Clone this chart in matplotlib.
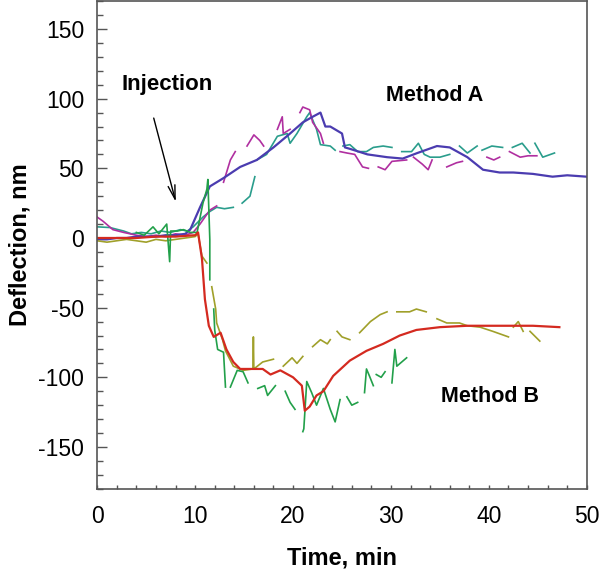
import numpy as np
import matplotlib
matplotlib.use('Agg')
import matplotlib.pyplot as plt
from matplotlib.ticker import MultipleLocator

plt.rcParams['font.family'] = ['Liberation Sans', 'DejaVu Sans']
plt.rcParams['axes.unicode_minus'] = False

# Method A traces (None = gap in the record)
blue_t = [0, 1, 2, 3, 4, 5, 6, 7, 8, 9, 9.5, 10.5, 11.5, 12.9, 14.6, 16.3, 18, 19.7, 21, 22.0,
          22.8, 23.3, 23.8, 25, 25.3, 25.8, 27.6, 29.6, 31.2, 32.7, 34.7, 36, 37.8, 39.4, 41.1,
          42.5, 44.5, 45.5, 46.5, 48, 50]
blue_y = [-1, -1, 0, 0, 1, 1, 1, 2, 2, 3, 6, 22, 37, 43, 51, 56, 65, 75, 83, 87,
          90, 80, 80, 75, 65, 64, 60, 58, 57, 61, 66, 65, 58, 49, 47,
          47, 46, 45, 44, 45, 44]

magenta_t = [0, 0.6, 1.6, 2.7, 4, 5, 6, 7, 8, 9, 9.8, 10.5, 11.5, 12.2, 12.5, 12.9, 13.6, 14.1, 14.7,
             15.3, 16, 16.6, 17, 17.7, 18.4, 18.9, 19, 19.7, 20.2, 20.7, 21, 21.7, 22, 22.8, 23.1,
             24.0, 24.8, 25.5, 26.3, 27.1, 27.7, 28.2, 28.7, 29.4, 30.1, 31.6, 32.0, 32.3, 33.2,
             33.8, 34.2, 35.0, 35.7, 36.7, 37.3, 38.5, 39.8, 40.5, 41.1, 41.6, 42.1, 43.2, 44.0, 44.9]
magenta_y = [15, 12, 6, 4, 2, 1, 2, 1, 3, 2, 4, 10, 20, 23, None, 40, 56, 62, None,
             66, 74, 70, 66, None, 78, 87, 75, 78, None, 90, 94, 92, 83, 75, 68,
             None, 62, 61, 60, 51, 50, None, 51, 49, 55, 56, None, 58, 53,
             49, 56, None, 51, 54, 55, None, 58, 56, 58, None, 62, 58, 59, 59]

teal_t = [0, 1.3, 2.7, 3.5, 4.5, 5.5, 6.5, 7.5, 8.5, 9.2, 9.8, 10.8, 11.5, 12.2, 13.0, 13.9, 14.3,
          14.8, 15.6, 16.1, 16.2, 16.3, 17.3, 18.4, 19.4, 19.7, 20.4, 21.4, 21.7, 22.4, 22.8, 23.8,
          24.3, 24.7, 25.1, 25.8, 26.6, 27.5, 28.2, 29.2, 30.1, 30.6, 31.1, 32.1, 32.8, 33.4, 34,
          35, 36, 36.5, 37, 37.8, 38.8, 39.0, 39.3, 40.3, 41.4, 41.9, 42.4, 43.4, 44.2, 44.5,
          44.7, 45.5, 46.7]
teal_y = [8, 7.5, 5, 3, 4, 3, 5, 4, 6, 5, 8, 15, 19, 22, 21, 22, None,
          25, 30, 44, None, 56, 60, 73, 75, 68, 75, 87, 90, 78, 67, 66,
          63, None, 66, 67, 62, 62, 65, 66, 65, None, 62, 62, 68, 60, 58,
          58, 60, None, 66, 61, 66, None, 63, 66, 65, None, 65, 68, 61, None,
          68, 58, 61]

# Method B traces
red_t = [0, 2, 4, 6, 8, 10, 10.3, 10.7, 11, 11.4, 11.9, 12.6, 13.2, 13.9, 14.6, 15.6, 16.9, 17.7,
         18.7, 20, 20.9, 21.2, 21.7, 22.4, 23.1, 24.1, 25.8, 27.5, 29.2, 30.9, 32.6, 35, 37.8,
         41.1, 44.5, 47.2]
red_y = [0, 0, 0, 1, 1, 2, 4, -15, -44, -63, -71, -68, -80, -89, -94, -94, -94, -98,
         -95, -100, -106, -124, -121, -113, -110, -99, -88, -81, -76, -70, -66, -64, -63,
         -63, -63, -64]

olive_t = [0, 1, 2, 3, 4, 5, 6, 7, 8, 9, 10, 10.3, 10.7, 11.2, 11.4, 11.7, 12.1, 12.2, 12.8, 13.1,
           13.9, 14.9, 15.9, 15.95, 16.0, 16.9, 18, 18.5, 19, 19.9, 20.4, 21, 21.5, 22, 22.8, 23.5,
           23.8, 24.1, 24.5, 25, 25.8, 26.3, 26.8, 27.9, 28.9, 29.6, 30.1, 30.6, 31.9, 32.6, 33.6,
           34.1, 34.7, 35.7, 37, 37.8, 39.1, 40.4, 42, 42.2, 42.5, 43, 43.5, 43.8, 44.2, 45.2]
olive_y = [-2, -3, -2, -1, -2, -3, -1, -2, -1, 0, 1, 3, -13, -18, None, -35, -51, -61, -73, -81,
           -92, -95, -94, -71, -94, -89, -87, None, -92, -86, -90, -85, None, -78, -73, -76,
           -73, None, -67, -71, -73, None, -68, -60, -55, -53, None, -53, -53, -51, -53,
           None, -58, -61, -61, -63, -64, -67, -71, None, -64, -60, -67, None, -67, -74]

green_t = [4, 4.8, 5.7, 6.3, 7.1, 7.4, 7.5, 8.2, 8.8, 9.5, 10.2, 10.8, 11.2, 11.3, 11.5, 11.5, 11.7,
           11.9, 12.0, 12.3, 12.9, 13.1, 13.3, 13.6, 14.3, 14.9, 15.4, 15.9, 16.4, 17.1, 17.4, 18.2,
           18.7, 19.2, 19.7, 20.2, 20.6, 21.0, 21.1, 21.4, 21.9, 22.4, 23.1, 23.8, 24.3, 24.8, 25.1,
           25.5, 26, 26.6, 27.0, 27.3, 27.5, 27.8, 28.2, 28.3, 28.5, 29, 29.4, 29.7, 30.1, 30.4,
           30.6, 31.6]
green_y = [4, 2, 8, 3, 10, -17, 5, 5, 6, 4, 4, 25, 35, 42, -1, -30, None,
           -51, -66, -80, -82, -107, None, -107, -95, -96, -104, None, -108, -106, -113, -106,
           None, -110, -118, -123, None, -139, -137, -103, -111, -120, -108, -123, -132, -116, None,
           -114, -120, -118, None, -111, -94, -99, -106, None, -98, -100, -96, None, -104, -80,
           -92, -86]

fig = plt.figure(figsize=(6, 5.69), dpi=100)
ax = fig.add_axes([0.162, 0.141, 0.816, 0.857])

def arr(v):
    return np.array(v, dtype=float)

ax.plot(teal_t, arr(teal_y), color='#2a9d8c', lw=1.2)
ax.plot(magenta_t, arr(magenta_y), color='#b02fa0', lw=1.2)
ax.plot(blue_t, arr(blue_y), color='#4b3cb0', lw=1.6)
ax.plot(olive_t, arr(olive_y), color='#a0a02a', lw=1.2)
ax.plot(green_t, arr(green_y), color='#22a04a', lw=1.2)
ax.plot(red_t, arr(red_y), color='#d42a20', lw=1.6)

ax.set_xlim(0, 50)
ax.set_ylim(-180, 170)
ax.xaxis.set_major_locator(MultipleLocator(10))
ax.xaxis.set_minor_locator(MultipleLocator(2))
ax.yaxis.set_major_locator(MultipleLocator(50))
ax.yaxis.set_minor_locator(MultipleLocator(10))
ax.tick_params(axis='both', which='both', direction='in', colors='#555555',
               labelcolor='black', labelsize=16.5, width=1)
ax.tick_params(axis='y', which='major', length=7)
ax.tick_params(axis='y', which='minor', length=4)
ax.tick_params(axis='x', which='both', length=3)
ax.tick_params(axis='x', pad=12)
ax.tick_params(axis='y', pad=9.5)
for s in ax.spines.values():
    s.set_color('#555555')
    s.set_linewidth(1.2)

ax.set_xlabel('Time, min', fontsize=17, fontweight='bold', labelpad=13)
ax.set_ylabel('Deflection, nm', fontsize=17, fontweight='bold', labelpad=5)

ax.text(7.1, 110, 'Injection', fontsize=16, fontweight='bold', ha='center', va='center')
ax.text(34.5, 102, 'Method A', fontsize=15.5, fontweight='bold', ha='center', va='center')
ax.text(40.1, -114, 'Method B', fontsize=15.5, fontweight='bold', ha='center', va='center')
ax.annotate('', xy=(8.1, 24), xytext=(5.7, 88),
            arrowprops=dict(arrowstyle='->,head_length=1.0,head_width=0.25',
                            color='black', lw=1))

fig.savefig('out.png', dpi=100)
